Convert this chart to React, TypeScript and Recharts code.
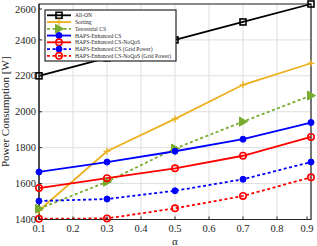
import React from "react";
import { LineChart, Line, XAxis, YAxis, CartesianGrid, ReferenceArea } from "recharts";

const alphas = [0.1, 0.3, 0.5, 0.7, 0.9];
const allOn = [2200, 2300, 2400, 2500, 2600];
const sorting = [1450, 1780, 1960, 2150, 2270];
const terrestrial = [1460, 1610, 1795, 1945, 2090];
const hapsCs = [1665, 1720, 1780, 1847, 1940];
const hapsNoQos = [1575, 1630, 1685, 1755, 1860];
const hapsCsGrid = [1503, 1514, 1560, 1624, 1720];
const hapsNoQosGrid = [1404, 1406, 1462, 1531, 1635];

const xTicks = [0.1, 0.2, 0.3, 0.4, 0.5, 0.6, 0.7, 0.8, 0.9];
const yTicks = [1400, 1600, 1800, 2000, 2200, 2400, 2600];

const data = alphas.map((a, i) => ({
  a,
  allOn: allOn[i],
  sorting: sorting[i],
  terrestrial: terrestrial[i],
  hapsCs: hapsCs[i],
  hapsNoQos: hapsNoQos[i],
  hapsCsGrid: hapsCsGrid[i],
  hapsNoQosGrid: hapsNoQosGrid[i],
}));

const FONT = "'Liberation Serif', 'DejaVu Serif', serif";
const AX = "#262626";

type Mk = "square" | "plus" | "tri" | "dot" | "ring";

function marker(kind: Mk, x: number, y: number, color: string, key?: string) {
  switch (kind) {
    case "square":
      return <rect key={key} x={x - 3} y={y - 3} width={6} height={6} fill="none" stroke={color} strokeWidth={1.6} />;
    case "plus":
      return (
        <g key={key} stroke={color} strokeWidth={1.3}>
          <line x1={x - 3.5} x2={x + 3.5} y1={y} y2={y} />
          <line x1={x} x2={x} y1={y - 3.5} y2={y + 3.5} />
        </g>
      );
    case "tri":
      return <polygon key={key} points={`${x + 4.5},${y} ${x - 3.5},${y - 4.5} ${x - 3.5},${y + 4.5}`} fill={color} stroke={color} />;
    case "dot":
      return <circle key={key} cx={x} cy={y} r={3} fill={color} stroke={color} />;
    default:
      return <circle key={key} cx={x} cy={y} r={3.2} fill="none" stroke={color} strokeWidth={1.6} />;
  }
}

const makeDot = (kind: Mk, color: string) => (p: any) =>
  marker(kind, p.cx, p.cy, color, `${kind}-${p.index}`);

const series = [
  { key: "allOn", name: "All-ON", color: "#000000", dash: undefined, mk: "square" as Mk },
  { key: "sorting", name: "Sorting", color: "#EDB120", dash: undefined, mk: "plus" as Mk },
  { key: "terrestrial", name: "Terrestrial CS", color: "#77AC30", dash: "3 2.5", mk: "tri" as Mk },
  { key: "hapsCs", name: "HAPS-Enhanced CS", color: "#0000FF", dash: undefined, mk: "dot" as Mk },
  { key: "hapsNoQos", name: "HAPS-Enhanced CS-NoQoS", color: "#FF0000", dash: undefined, mk: "ring" as Mk },
  { key: "hapsCsGrid", name: "HAPS-Enhanced CS (Grid Power)", color: "#0000FF", dash: "3 2.5", mk: "dot" as Mk },
  { key: "hapsNoQosGrid", name: "HAPS-Enhanced CS-NoQoS (Grid Power)", color: "#FF0000", dash: "3 2.5", mk: "ring" as Mk },
];

const BottomTick = (p: any) => (
  <g>
    <line x1={p.x} x2={p.x} y1={p.y} y2={p.y - 3} stroke={AX} />
    <text x={p.x} y={p.y + 12.5} textAnchor="middle" fontSize={10.5} fontFamily={FONT} fill={AX}>
      {Number(p.payload.value).toFixed(1)}
    </text>
  </g>
);

const TopTick = (p: any) => <line x1={p.x} x2={p.x} y1={p.y} y2={p.y + 3} stroke={AX} />;

const LeftTick = (p: any) => (
  <g>
    <line x1={p.x} x2={p.x + 3} y1={p.y} y2={p.y} stroke={AX} />
    <text x={p.x - 3} y={p.y + 3.6} textAnchor="end" fontSize={10.5} fontFamily={FONT} fill={AX}>
      {p.payload.value}
    </text>
  </g>
);

const RightTick = (p: any) => <line x1={p.x} x2={p.x - 3} y1={p.y} y2={p.y} stroke={AX} />;

const YLabel = (p: any) => {
  const vb = p.viewBox || {};
  const cy = (vb.y ?? 4) + (vb.height ?? 215.5) / 2;
  return (
    <text
      transform={`translate(9, ${cy}) rotate(-90)`}
      textAnchor="middle"
      fontSize={11}
      fontFamily={FONT}
      fill={AX}
    >
      Power Consumption [W]
    </text>
  );
};

function LegendBox() {
  const rowY = (i: number) => 5.3 + i * 6.75;
  return (
    <svg width={134} height={54} style={{ position: "absolute", left: 44, top: 9 }}>
      <rect x={1} y={1} width={131} height={51} fill="#fff" stroke="#262626" strokeWidth={1.2} />
      {series.map((s, i) => (
        <g key={s.key}>
          <line x1={3} x2={27} y1={rowY(i) + 1} y2={rowY(i) + 1} stroke={s.color} strokeWidth={1.8} strokeDasharray={s.dash} />
          {marker(s.mk, 15, rowY(i) + 1, s.color)}
          <text x={31} y={rowY(i) + 3} fontSize={5.6} fontFamily={FONT} fill={AX}>
            {s.name}
          </text>
        </g>
      ))}
    </svg>
  );
}

export default function App() {
  return (
    <div style={{ position: "absolute", left: 0, top: 0, width: 317, height: 246, background: "#fff" }}>
      <LineChart width={317} height={246} data={data} margin={{ top: 4, right: 6, left: 0, bottom: 0 }}>
        <CartesianGrid stroke="#dedede" strokeWidth={1} />
        <XAxis
          dataKey="a"
          type="number"
          domain={[0.1, 0.9]}
          ticks={xTicks}
          height={26.5}
          tickSize={0}
          tickMargin={0}
          tick={BottomTick}
          axisLine={{ stroke: AX }}
          tickLine={false}
          label={{ value: "α", position: "insideBottom", offset: 0, fontSize: 11, fontFamily: FONT, fill: AX, dy: -1 }}
        />
        <XAxis
          xAxisId="top"
          orientation="top"
          dataKey="a"
          type="number"
          domain={[0.1, 0.9]}
          ticks={xTicks}
          height={0}
          tickSize={0}
          tickMargin={0}
          tick={TopTick}
          axisLine={{ stroke: AX }}
          tickLine={false}
        />
        <YAxis
          type="number"
          domain={[1400, 2600]}
          ticks={yTicks}
          width={39}
          tickSize={0}
          tickMargin={0}
          tick={LeftTick}
          axisLine={{ stroke: AX }}
          tickLine={false}
          label={{ content: YLabel }}
        />
        <YAxis
          yAxisId="right"
          orientation="right"
          type="number"
          domain={[1400, 2600]}
          ticks={yTicks}
          width={0}
          tickSize={0}
          tickMargin={0}
          tick={RightTick}
          axisLine={{ stroke: AX }}
          tickLine={false}
        />
        <ReferenceArea
          x1={0.1}
          x2={0.9}
          y1={1400}
          y2={2600}
          fill="none"
          fillOpacity={0}
          stroke={AX}
          strokeWidth={1.2}
          ifOverflow="visible"
        />
        {series.map((s) => (
          <Line
            key={s.key}
            dataKey={s.key}
            stroke={s.color}
            strokeWidth={1.8}
            strokeDasharray={s.dash}
            dot={makeDot(s.mk, s.color)}
            activeDot={false}
            isAnimationActive={false}
          />
        ))}
      </LineChart>
      <LegendBox />
    </div>
  );
}
